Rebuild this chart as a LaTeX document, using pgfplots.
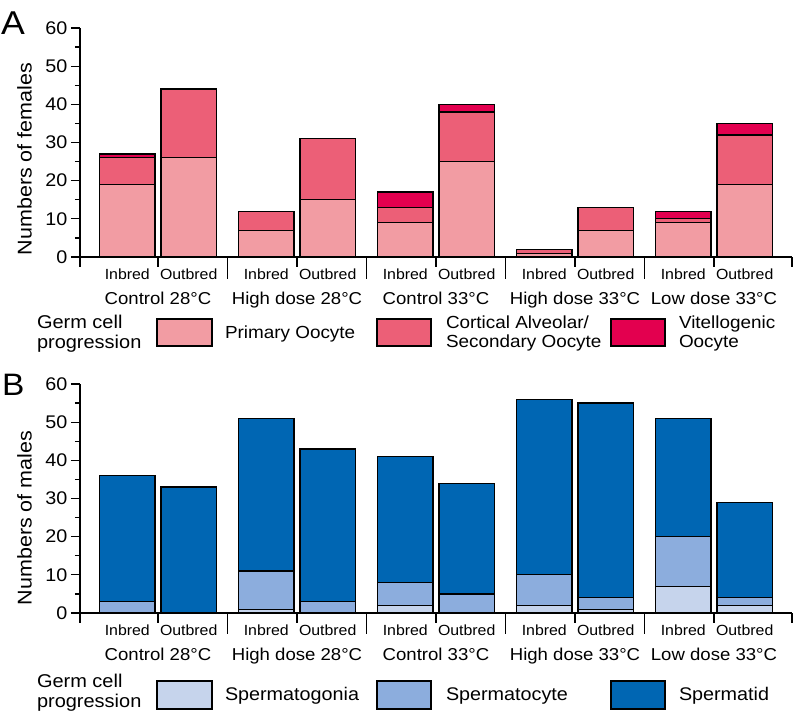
\documentclass[border=0pt]{standalone}
\usepackage{pgfplots}
\pgfplotsset{compat=1.18}
\usepackage{fontspec}
\setmainfont{Liberation Sans}[FakeStretch=1.08]

\definecolor{prim}{HTML}{F29CA3}
\definecolor{cort}{HTML}{EC5F77}
\definecolor{vit}{HTML}{E3004F}
\definecolor{gon}{HTML}{C6D4EC}
\definecolor{cyt}{HTML}{8CADDD}
\definecolor{tid}{HTML}{0066B3}

\pgfplotsset{
  panel/.style={
    scale only axis, width=712bp, height=229bp,
    xmin=-0.5612, xmax=4.5612, ymin=0, ymax=60,
    clip=false,
    axis x line=bottom, axis y line=left,
    axis line style={-, line width=1.2bp, black},
    ybar stacked, bar width=0.4,
    ytick={0,10,...,60}, minor ytick={5,15,...,55},
    tick align=outside, major tick length=9bp, minor tick length=5bp,
    tick style={line width=1.2bp, black},
    xtick style={draw=none},
    /pgf/number format/assume math mode=true,
    yticklabel style={font=\fontsize{18.3bp}{20bp}\selectfont},
    xtick={-0.221,0.221,0.779,1.221,1.779,2.221,2.779,3.221,3.779,4.221},
    xticklabels={Inbred,Outbred,Inbred,Outbred,Inbred,Outbred,Inbred,Outbred,Inbred,Outbred},
    xticklabel style={font=\fontsize{14.7bp}{16bp}\selectfont, anchor=base, yshift=-13bp},
    extra x ticks={0,1,2,3,4},
    extra x tick labels={Control 28°C,High dose 28°C,Control 33°C,High dose 33°C,Low dose 33°C},
    extra x tick style={xticklabel style={font=\fontsize{17.2bp}{19bp}\selectfont, yshift=-25bp}},
  },
  barst/.style={draw=black, line width=1.3bp},
}

\begin{document}
\begin{tikzpicture}
\useasboundingbox (0bp,0bp) rectangle (793bp,-715bp);

% ---------------- Panel A ----------------
\begin{axis}[panel, at={(80bp,-257bp)}, anchor=south west]
\addplot[barst, fill=prim] coordinates {(-0.221,19) (0.221,26) (0.779,7) (1.221,15) (1.779,9) (2.221,25) (2.779,1) (3.221,7) (3.779,9) (4.221,19)};
\addplot[barst, fill=cort] coordinates {(-0.221,7) (0.221,18) (0.779,5) (1.221,16) (1.779,4) (2.221,13) (2.779,1) (3.221,6) (3.779,1) (4.221,13)};
\addplot[barst, fill=vit] coordinates {(-0.221,1) (0.221,0) (0.779,0) (1.221,0) (1.779,4) (2.221,2) (2.779,0) (3.221,0) (3.779,2) (4.221,3)};
\pgfplotsinvokeforeach{-0.5612,0,1,2,3,4,4.5612}{\draw[line width=1.2bp] (axis cs:#1,0) -- ++(0bp,-9.5bp);}
\pgfplotsinvokeforeach{0.5,1.5,2.5,3.5}{\draw[line width=1.2bp] (axis cs:#1,0) -- ++(0bp,-22bp);}
\end{axis}

% ---------------- Panel B ----------------
\begin{axis}[panel, at={(80bp,-613bp)}, anchor=south west]
\addplot[barst, fill=gon] coordinates {(-0.221,0) (0.221,0) (0.779,1) (1.221,0) (1.779,2) (2.221,0) (2.779,2) (3.221,1) (3.779,7) (4.221,2)};
\addplot[barst, fill=cyt] coordinates {(-0.221,3) (0.221,0) (0.779,10) (1.221,3) (1.779,6) (2.221,5) (2.779,8) (3.221,3) (3.779,13) (4.221,2)};
\addplot[barst, fill=tid] coordinates {(-0.221,33) (0.221,33) (0.779,40) (1.221,40) (1.779,33) (2.221,29) (2.779,46) (3.221,51) (3.779,31) (4.221,25)};
\pgfplotsinvokeforeach{-0.5612,0,1,2,3,4,4.5612}{\draw[line width=1.2bp] (axis cs:#1,0) -- ++(0bp,-9.5bp);}
\pgfplotsinvokeforeach{0.5,1.5,2.5,3.5}{\draw[line width=1.2bp] (axis cs:#1,0) -- ++(0bp,-21bp);}
\end{axis}

\begin{scope}[x=1bp, y=-1bp, every node/.style={inner sep=0pt, outer sep=0pt}]
% panel letters
\node[anchor=base west, font=\fontsize{33bp}{36bp}\selectfont] at (1,34) {A};
\node[anchor=base west, font=\fontsize{31bp}{34bp}\selectfont] at (2,395) {B};
% y labels
\node[rotate=90, anchor=center, font=\fontsize{19.9bp}{22bp}\selectfont] at (24.5,159) {Numbers of females};
\node[rotate=90, anchor=center, font=\fontsize{19.9bp}{22bp}\selectfont] at (24.5,518) {Numbers of males};

% legend A
\node[anchor=base west, font=\fontsize{18.5bp}{20bp}\selectfont] at (37,328) {Germ cell};
\node[anchor=base west, font=\fontsize{18.5bp}{20bp}\selectfont] at (37,348) {progression};
\draw[fill=prim, line width=1.2bp] (157,319) rectangle (212,346);
\draw[fill=cort, line width=1.2bp] (377,319) rectangle (431,346);
\draw[fill=vit, line width=1.2bp] (611,319) rectangle (665,346);
\node[anchor=base west, font=\fontsize{17.5bp}{19bp}\selectfont] at (225,338) {Primary Oocyte};
\node[anchor=base west, font=\fontsize{17.5bp}{19bp}\selectfont] at (446,328) {Cortical Alveolar/};
\node[anchor=base west, font=\fontsize{17.5bp}{19bp}\selectfont] at (446,347) {Secondary Oocyte};
\node[anchor=base west, font=\fontsize{17.5bp}{19bp}\selectfont] at (679,328) {Vitellogenic};
\node[anchor=base west, font=\fontsize{17.5bp}{19bp}\selectfont] at (679,347) {Oocyte};

% legend B
\node[anchor=base west, font=\fontsize{18.5bp}{20bp}\selectfont] at (37,687) {Germ cell};
\node[anchor=base west, font=\fontsize{18.5bp}{20bp}\selectfont] at (37,707) {progression};
\draw[fill=gon, line width=1.2bp] (157,681) rectangle (212,709);
\draw[fill=cyt, line width=1.2bp] (377,681) rectangle (431,709);
\draw[fill=tid, line width=1.2bp] (611,681) rectangle (665,709);
\node[anchor=base west, font=\fontsize{18.3bp}{20bp}\selectfont] at (225,700) {Spermatogonia};
\node[anchor=base west, font=\fontsize{18.3bp}{20bp}\selectfont] at (446,700) {Spermatocyte};
\node[anchor=base west, font=\fontsize{18.3bp}{20bp}\selectfont] at (679,700) {Spermatid};
\end{scope}
\end{tikzpicture}
\end{document}
